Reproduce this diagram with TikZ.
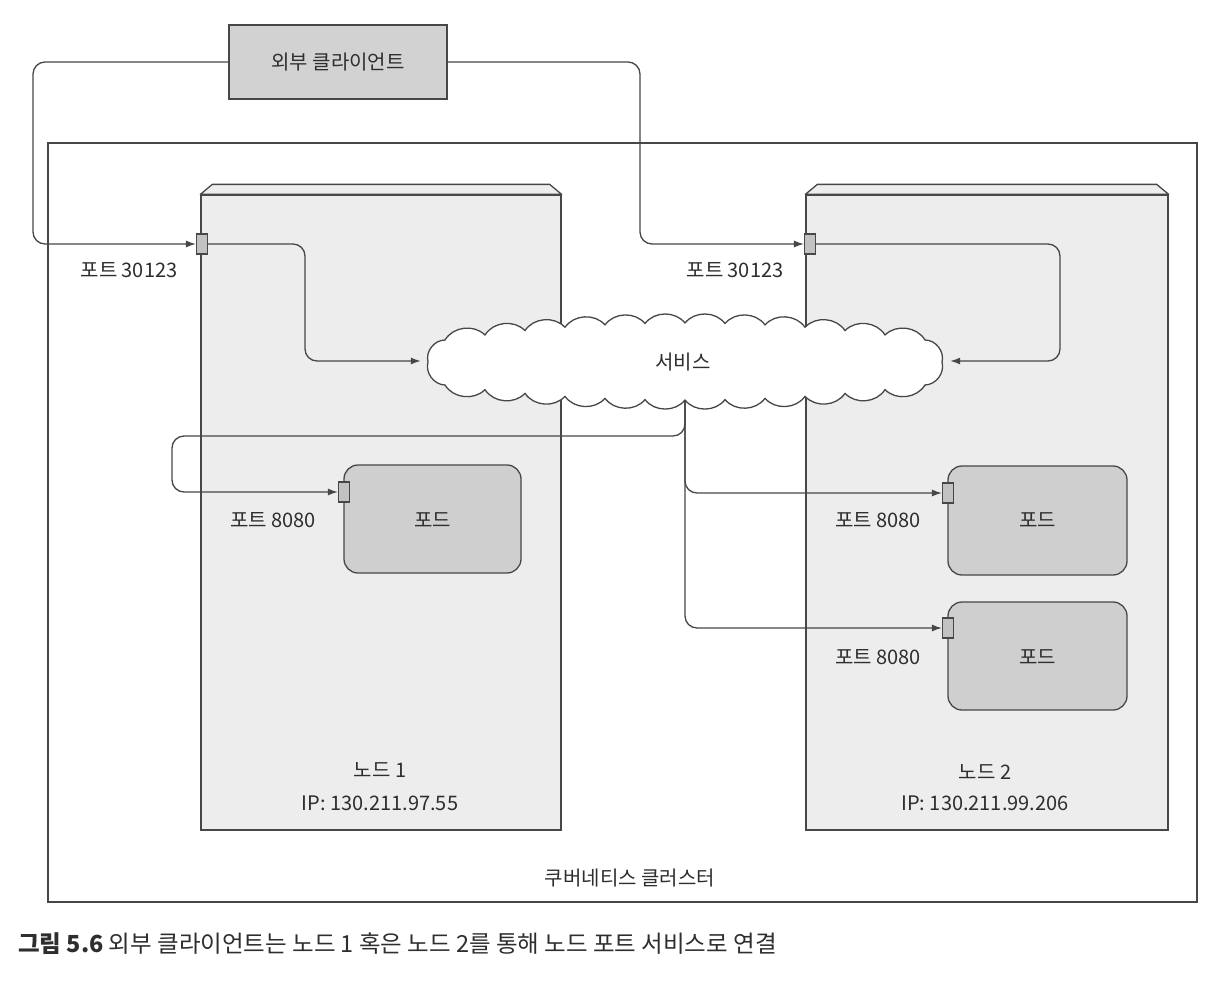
\documentclass[tikz,border=0pt]{standalone}
\usepackage{fontspec}
\setmainfont{Noto Sans CJK KR}
\usetikzlibrary{arrows.meta}
\definecolor{linec}{HTML}{474747}
\definecolor{textc}{HTML}{2E2E2E}
\definecolor{nodefill}{HTML}{EDEDED}
\definecolor{podfill}{HTML}{CFCFCF}
\definecolor{clientfill}{HTML}{D2D2D2}
\definecolor{portfill}{HTML}{C2C2C2}
\tikzset{
  box/.style={draw=linec, line width=1.3pt, inner sep=0pt},
  clientbox/.style={box, fill=clientfill},
  hostbox/.style={box, fill=nodefill},
  podbox/.style={box, fill=podfill, rounded corners=14pt},
  portbox/.style={box, fill=portfill, minimum width=11pt, minimum height=20pt, line width=1.1pt},
  lbl/.style={text=textc, font=\fontsize{20}{23}\selectfont, inner sep=0pt},
  conn/.style={draw=linec, line width=1.3pt, rounded corners=12pt},
  arr/.style={conn, -{Latex[length=10pt,width=7pt]}},
  cloudarea/.style={rectangle, minimum width=520pt, minimum height=88pt, inner sep=0pt},
  cloudline/.style={draw=linec, line width=1.3pt, fill=white, line join=round},
  puff/.style={bend left=52}
}
\begin{document}
\begin{tikzpicture}[x=1pt,y=-1pt]
\useasboundingbox[fill=white] (0,0) rectangle (1223,980);
% cluster
\node[box, minimum width=1149pt, minimum height=759pt] (cluster) at (622.5,522.5) {};
\node[lbl] (clusterlbl) at (630,878) {쿠버네티스 클러스터};
% client
\node[clientbox, minimum width=218pt, minimum height=74pt] (client) at (338,62) {};
\node[lbl] (clientlbl) at (338,62) {외부 클라이언트};
% host nodes
\node[hostbox, minimum width=360pt, minimum height=635pt] (n1) at (381,512.5) {};
\draw[box, fill=nodefill, line join=round] (n1.north west) -- ++(12,-10) -- ([xshift=-12pt,yshift=10pt]n1.north east) -- (n1.north east) -- cycle;
\node[hostbox, minimum width=362pt, minimum height=635pt] (n2) at (987,512.5) {};
\draw[box, fill=nodefill, line join=round] (n2.north west) -- ++(12,-10) -- ([xshift=-12pt,yshift=10pt]n2.north east) -- (n2.north east) -- cycle;
\node[lbl] (n1name) at (380,770) {노드 1};
\node[lbl] (n1ip) at (380,803) {IP: 130.211.97.55};
\node[lbl] (n2name) at (985,772) {노드 2};
\node[lbl] (n2ip) at (985,803) {IP: 130.211.99.206};
% pods
\node[podbox, minimum width=177pt, minimum height=108pt] (pod1) at (432.5,519) {};
\node[lbl] (pod1lbl) at (432.5,520) {포드};
\node[podbox, minimum width=179pt, minimum height=109pt] (pod2) at (1037.5,520.5) {};
\node[lbl] (pod2lbl) at (1037.5,520) {포드};
\node[podbox, minimum width=179pt, minimum height=108pt] (pod3) at (1037.5,656) {};
\node[lbl] (pod3lbl) at (1037.5,657) {포드};
% service area (anchors for the cloud)
\node[cloudarea] (svc) at (685,361) {};
% ports
\node[portbox] (p1) at (202,244) {};
\node[portbox] (p2) at (810,244) {};
\node[portbox] (pp1) at (344,492) {};
\node[portbox] (pp2) at (948,493) {};
\node[portbox] (pp3) at (948,628) {};
\node[lbl] (p1lbl) at (129,270) {포트 30123};
\node[lbl] (p2lbl) at (735,270) {포트 30123};
\node[lbl] (pp1lbl) at (273,520) {포트 8080};
\node[lbl] (pp2lbl) at (878,520) {포트 8080};
\node[lbl] (pp3lbl) at (878,657) {포트 8080};
% connectors leaving the service (start hidden under the cloud)
\draw[arr] (svc.center) |- (172,436) |- (pp1.west);
\draw[arr] (svc.center) |- (pp2.west);
\draw[arr] (svc.center) |- (pp3.west);
% cloud outline
\draw[cloudline] (445,340)
  to[puff] (485,335) to[puff] (525,330.6) to[puff] (565,327.3) to[puff] (605,324.9)
  to[puff] (645,323.5) to[puff] (685,323) to[puff] (725,323.5) to[puff] (765,324.9)
  to[puff] (805,327.3) to[puff] (845,330.6) to[puff] (885,335) to[puff] (925,340)
  to[puff] (942,362) to[puff] (925,385)
  to[puff] (885,389.6) to[puff] (845,393.3) to[puff] (805,396.3) to[puff] (765,398.3)
  to[puff] (725,399.6) to[puff] (685,400) to[puff] (645,399.6) to[puff] (605,398.3)
  to[puff] (565,396.3) to[puff] (525,393.3) to[puff] (485,389.6) to[puff] (445,385)
  to[puff] (428,362) to[puff] (445,340) -- cycle;
\node[lbl] (svclbl) at (683,362) {서비스};
% connectors
\draw[arr] (client.west) -| (33,150) |- (p1.west);
\draw[arr] (client.east) -| (640,150) |- (p2.west);
\draw[arr] (p1.east) -| (305,300) |- ([xshift=-4pt]svc.west);
\draw[arr] (p2.east) -| (1060,300) |- ([xshift=5pt]svc.east);
% redraw ports on top of arrow lines
\node[portbox] at (p1) {};
\node[portbox] at (p2) {};
\node[portbox] at (pp1) {};
\node[portbox] at (pp2) {};
\node[portbox] at (pp3) {};
% caption
\node[text=textc, font=\fontsize{23.5}{26}\selectfont, anchor=west, inner sep=0pt] (caption) at (18,944) {\textbf{그림 5.6} 외부 클라이언트는 노드 1 혹은 노드 2를 통해 노드 포트 서비스로 연결};
\end{tikzpicture}
\end{document}
